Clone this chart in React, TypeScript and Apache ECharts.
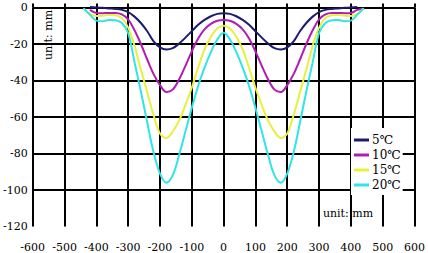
import { useEffect, useRef } from "react";
import * as echarts from "echarts";

const seriesNames = ["5℃", "10℃", "15℃", "20℃"];
const seriesColors = ["#1c1c6e", "#b01cb4", "#e8f03c", "#30e4e8"];

const xPositions = [
  -440, -420, -400, -380, -360, -340, -320, -300, -280, -260, -240, -220, -200, -180, -160, -140, -120, -100, -80, -60, -40, -20,
  0, 20, 40, 60, 80, 100, 120, 140, 160, 180, 200, 220, 240, 260, 280, 300, 320, 340, 360, 380, 400, 420, 440,
];

const temp5 = [
  null, 0.3, 0, -0.2, -0.5, -0.8, -1.3, -2.5, -5, -8.5, -13, -18.5, -21.8, -23, -22.3, -19.8, -16.5, -13, -9.5, -6.8, -4.8, -3.5,
  -3.1, -3.5, -4.8, -6.8, -9.5, -13, -16.5, -19.8, -22.3, -23, -21.8, -18.5, -13, -8.5, -5, -2.5, -1.3, -0.8, -0.5, -0.2, 0, 0.3, null,
];
const temp10 = [
  null, -1.3, -3, -3.1, -3, -3, -3.8, -6.5, -12.5, -20, -28.5, -36.5, -42.5, -46.3, -45, -39.5, -32, -24, -17, -12, -9, -7.3,
  -6.8, -7.3, -9, -12, -17, -24, -32, -39.5, -45, -46.3, -42.5, -36.5, -28.5, -20, -12.5, -6.5, -3.8, -3, -3, -3.1, -3, -1.3, -0.5,
];
const temp15 = [
  -0.5, -3.5, -4.7, -4.5, -4.1, -4.3, -5.8, -11, -21, -34, -46.5, -59, -69, -71.5, -68, -62, -53.5, -44, -33, -23, -16, -11.5,
  -10, -11.5, -16, -23, -33, -44, -53.5, -62, -68, -71.5, -69, -59, -46.5, -34, -21, -11, -5.8, -4.3, -4.1, -4.5, -4.7, -3.5, -0.5,
];
const temp20 = [
  -0.5, -4, -7.2, -7.5, -6.8, -7, -8.5, -14, -30, -46, -63, -79.5, -91, -96, -92, -81, -68, -55, -43, -33, -24.5, -17.5,
  -13.8, -17.5, -24.5, -33, -43, -55, -68, -81, -92, -96, -91, -79.5, -63, -46, -30, -14, -8.5, -7, -6.8, -7.5, -7.2, -4, -0.5,
];
const seriesValues = [temp5, temp10, temp15, temp20];

const axisUnitLabel = "unit: mm";
const serif = "DejaVu Serif";

export default function App() {
  const ref = useRef<HTMLDivElement>(null);
  useEffect(() => {
    const chart = echarts.init(ref.current!, null, { renderer: "svg" });
    const yLineColors = ["rgba(0,0,0,0)", "#000", "#000", "#000", "#000", "#000", "#000"];
    chart.setOption({
      animation: false,
      backgroundColor: "#fff",
      textStyle: { fontFamily: serif },
      grid: { left: 30, right: 10, top: 7.5, bottom: 26.5 },
      xAxis: [
        {
          type: "value",
          min: -600,
          max: 600,
          interval: 100,
          position: "bottom",
          axisLine: { show: false },
          axisTick: { show: false },
          splitLine: { show: true, lineStyle: { color: "#000", width: 2 } },
          axisLabel: { margin: 15, fontSize: 11, color: "#000", fontFamily: serif },
        },
        {
          type: "value",
          min: -600,
          max: 600,
          interval: 100,
          position: "top",
          axisLine: { show: false },
          axisTick: { show: true, length: 4, lineStyle: { color: "#000", width: 2 } },
          axisLabel: { show: false },
          splitLine: { show: false },
        },
      ],
      yAxis: {
        type: "value",
        min: -120,
        max: 0,
        interval: 20,
        axisLine: { show: false },
        axisTick: { show: false },
        splitLine: { show: true, lineStyle: { color: yLineColors, width: 2 } },
        axisLabel: { margin: 5, fontSize: 11, color: "#000", fontFamily: serif },
      },
      legend: {
        orient: "vertical",
        left: 351,
        top: 128,
        backgroundColor: "#fff",
        padding: [6, 2, 4, 3],
        itemGap: 3,
        itemWidth: 15,
        itemHeight: 3,
        icon: "rect",
        textStyle: { fontSize: 12, color: "#000", fontFamily: serif, padding: [0, 0, 0, -2] },
        data: seriesNames,
      },
      graphic: [
        {
          type: "text",
          x: 48,
          y: 35,
          rotation: Math.PI / 2,
          style: {
            text: axisUnitLabel,
            fontSize: 11,
            fontFamily: serif,
            fill: "#000",
            textAlign: "center",
            textVerticalAlign: "middle",
          },
          z: 10,
        },
        {
          type: "text",
          x: 348,
          y: 213,
          style: {
            text: axisUnitLabel,
            fontSize: 11,
            fontFamily: serif,
            fill: "#000",
            textAlign: "center",
            textVerticalAlign: "middle",
          },
          z: 10,
        },
      ],
      series: seriesNames.map((name, si) => ({
        name,
        type: "line",
        xAxisIndex: 0,
        data: xPositions.map((x, i) => [x, seriesValues[si][i]]),
        showSymbol: false,
        symbol: "none",
        smooth: 0.35,
        clip: false,
        connectNulls: false,
        color: seriesColors[si],
        lineStyle: { width: 2, color: seriesColors[si] },
      })),
    });
    return () => chart.dispose();
  }, []);
  return <div ref={ref} style={{ position: "absolute", left: 0, top: 0, width: 428, height: 253 }} />;
}
